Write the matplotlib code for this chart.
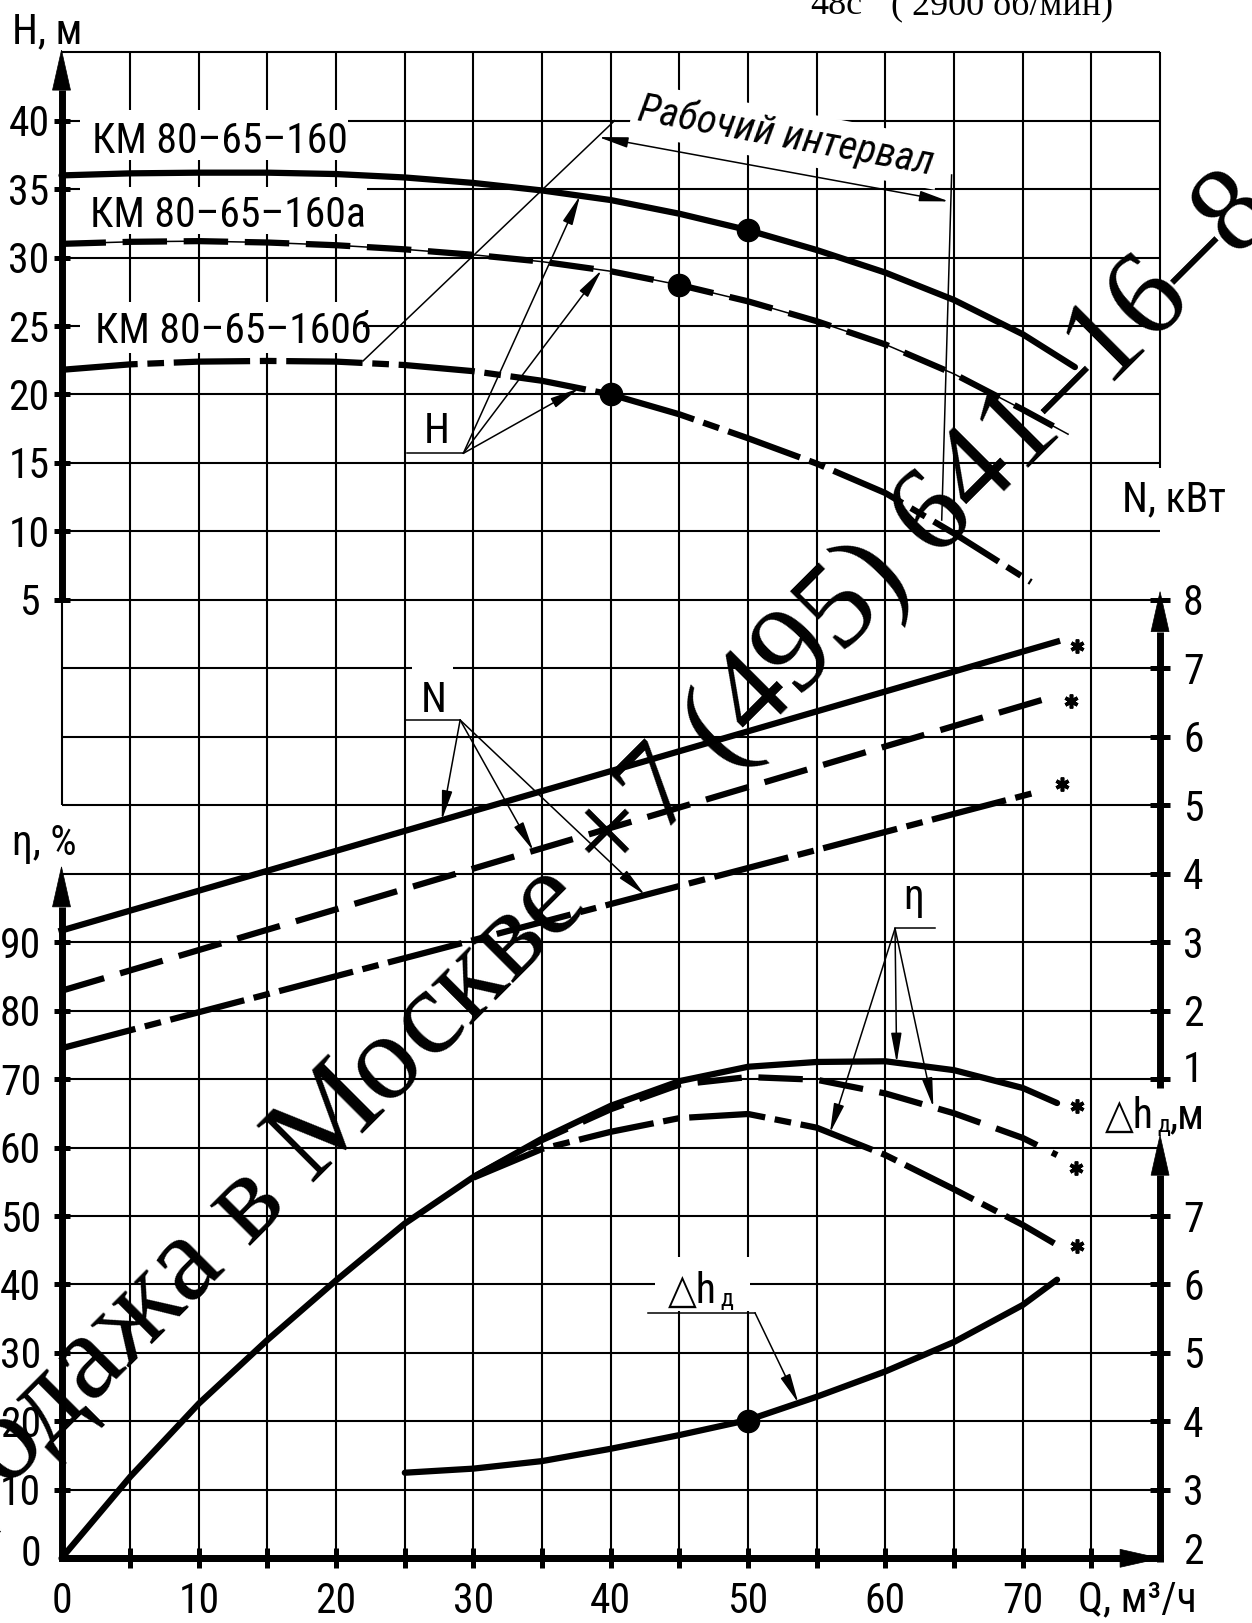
#!/usr/bin/env python3
"""
Pump characteristic chart KM 80-65-160 (H, N, eta, dh vs Q)
drawn on one square grid with four value scales.
"""

import numpy as np
import matplotlib
matplotlib.use("Agg")
import matplotlib.pyplot as plt
import matplotlib.transforms as mtransforms
from matplotlib import font_manager as fm
from matplotlib.textpath import TextPath
from matplotlib.patches import Polygon, Rectangle

# -----------------------------
# DATA
# -----------------------------
# head H, m
Q_H1 = [0, 5, 10, 15, 20, 25, 30, 35, 40, 45, 50, 55, 60, 65, 70, 73.8]
H1 = [36.0, 36.15, 36.2, 36.2, 36.1, 35.85, 35.45, 34.9, 34.2, 33.2, 32.0, 30.55, 28.9, 26.9, 24.4, 22.0]
Q_H2 = [0, 5, 10, 15, 20, 25, 30, 35, 40, 45, 50, 55, 60, 65, 70, 73.3]
H2 = [31.0, 31.15, 31.2, 31.1, 30.9, 30.6, 30.2, 29.7, 29.0, 28.0, 26.8, 25.35, 23.65, 21.5, 18.9, 17.1]
Q_H3 = [0, 5, 10, 15, 20, 25, 30, 35, 40, 45, 50, 55, 60, 65, 70.6]
H3 = [21.8, 22.2, 22.4, 22.45, 22.4, 22.15, 21.7, 21.0, 20.0, 18.55, 16.8, 14.95, 12.8, 9.85, 6.3]

# efficiency eta, %
Q_E1 = [0, 5, 10, 15, 20, 25, 30, 35, 40, 45, 50, 55, 60, 65, 70, 72.5]
E1 = [0, 11.9, 22.6, 31.9, 40.6, 48.9, 55.7, 61.3, 66.1, 69.7, 71.8, 72.5, 72.6, 71.3, 68.7, 66.5]
Q_E2 = [30, 35, 40, 45, 50, 55, 60, 65, 70, 72.5]
E2 = [55.7, 61.1, 65.6, 69.2, 70.3, 69.9, 67.9, 65.0, 61.4, 58.9]
Q_E3 = [30, 35, 40, 45, 50, 55, 60, 65, 70, 72.3]
E3 = [55.6, 59.8, 62.3, 64.3, 64.9, 62.9, 58.9, 53.9, 48.7, 46.0]

# power N, kW (straight lines)
Q_N1 = [0, 72.5]
N1 = [3.17, 7.39]
Q_N2 = [0, 71.6]
N2 = [2.29, 6.55]
Q_N3 = [0, 71.0]
N3 = [1.45, 5.19]

# NPSH dh, m
Q_DH = [25, 30, 35, 40, 45, 50, 55, 60, 65, 70, 72.5]
DH = [3.25, 3.31, 3.42, 3.6, 3.8, 4.02, 4.36, 4.73, 5.16, 5.7, 6.07]

# duty points
DUTY_Q = [50, 45, 40]
DUTY_H = [32.0, 28.0, 20.0]
DUTY_DH_Q = [50]
DUTY_DH = [4.0]

MODELS = ["КМ 80–65–160", "КМ 80–65–160а", "КМ 80–65–160б"]

H_TICKS = [5, 10, 15, 20, 25, 30, 35, 40]
ETA_TICKS = [0, 10, 20, 30, 40, 50, 60, 70, 80, 90]
N_TICKS = [1, 2, 3, 4, 5, 6, 7, 8]
DH_TICKS = [2, 3, 4, 5, 6, 7]
Q_TICKS = list(range(5, 80, 5))
Q_LABELS = [0, 10, 20, 30, 40, 50, 60, 70]

# -----------------------------
# FONT: the drawing uses a narrow drafting font, take the narrowest sans we have
# -----------------------------
def pick_narrow():
    prefs = ["Liberation Sans Narrow", "Roboto", "Noto Sans", "DejaVu Sans", "Open Sans", "Lato"]
    found = {}
    for f in fm.fontManager.ttflist:
        narrow = ("Narrow" in f.name or "ondensed" in f.name or
                  f.stretch in ("condensed", "semi-condensed", "extra-condensed"))
        if narrow and f.style == "normal":
            found.setdefault(f.name, f.stretch)
    for p in prefs:
        for name, stretch in found.items():
            if name.startswith(p):
                return name, stretch
    return "Liberation Sans", "normal"


FAMILY, STRETCH = pick_narrow()
plt.rcParams["font.family"] = [FAMILY, "DejaVu Sans"]
plt.rcParams["font.stretch"] = STRETCH
plt.rcParams["lines.scale_dashes"] = False

# -----------------------------
# LAYOUT
# -----------------------------
W_PX, H_PX, DPI = 1252, 1623, 100
X_Q0 = 61.5              # pixel column of Q = 0
PX_PER_Q = 68.66 / 5     # one grid column = 5 m3/h
Y_R0 = 1558.3            # pixel row of the Q axis
PX_PER_ROW = 68.46       # one grid row
Q_LIM = (-X_Q0 / PX_PER_Q, (W_PX - X_Q0) / PX_PER_Q)
R_LIM = ((Y_R0 - H_PX) / PX_PER_ROW, Y_R0 / PX_PER_ROW)


def text_width(s, size_pt, family, stretch="normal"):
    prop = fm.FontProperties(family=family, stretch=stretch)
    return TextPath((0, 0), s, size=size_pt * DPI / 72, prop=prop).get_extents().width


# shrink the text if our font is wider than the drafting one
FS = 31 * min(1.0, 250 / text_width(MODELS[0], 31, FAMILY, STRETCH))
# "dh" with a subscript: where the subscript starts after the triangle and h
DH_SUB = (text_width("△", FS, "DejaVu Sans") + text_width("h", FS, FAMILY, STRETCH) + 6)

THICK = 4.5
THIN = 1.1
GRID_LW = 1.5
AXIS_LW = 5.0
DASHED = (0, (32, 12))
DASHDOT = (0, (55, 7, 12, 7))
ARROW = dict(arrowstyle="-|>,head_length=0.9,head_width=0.16", mutation_scale=20,
             lw=THIN, color="k", shrinkA=0, shrinkB=0)
SERIF = ["Liberation Serif", "DejaVu Serif"]

fig = plt.figure(figsize=(W_PX / DPI, H_PX / DPI), dpi=DPI)
fig.patch.set_facecolor("white")


def make_axes(scale, offset):
    # every scale is a linear function of the grid row r
    a = fig.add_axes([0, 0, 1, 1])
    a.set_xlim(Q_LIM)
    a.set_ylim(scale * R_LIM[0] + offset, scale * R_LIM[1] + offset)
    a.set_axis_off()
    a.patch.set_alpha(0)
    return a


ax = make_axes(1, 0)        # grid rows
axH = make_axes(5, -65)     # H = 5 r - 65
axE = make_axes(10, 0)      # eta = 10 r
axN = make_axes(1, -6)      # N = r - 6
axD = make_axes(1, 2)       # dh = r + 2


def fxy(x, y):
    return x / W_PX, 1 - y / H_PX


def px_text(x, y, s, **kw):
    kw.setdefault("fontsize", FS)
    kw.setdefault("va", "baseline")
    return ax.text(*fxy(x, y), s, transform=fig.transFigure, zorder=4, **kw)


def white_box(x0, y0, x1, y1):
    ax.add_patch(Rectangle(fxy(x0, y1), (x1 - x0) / W_PX, (y1 - y0) / H_PX,
                           transform=fig.transFigure, fc="white", ec="none", zorder=1.5))


def axis_arrow(x0, y0, x1, y1, head_len=40, head_w=18):
    p0 = ax.transData.transform((x0, y0))
    p1 = ax.transData.transform((x1, y1))
    d = (p1 - p0) / np.hypot(*(p1 - p0))
    n = np.array([-d[1], d[0]])
    base = p1 - d * head_len
    tri = ax.transData.inverted().transform([p1, base + n * head_w / 2, base - n * head_w / 2])
    bx, by = ax.transData.inverted().transform(base)
    ax.plot([x0, bx], [y0, by], color="k", lw=AXIS_LW, solid_capstyle="butt", zorder=3)
    ax.add_patch(Polygon(tri, closed=True, fc="k", ec="k", lw=0.5, zorder=3))


# -----------------------------
# GRID AND AXES
# -----------------------------
ax.vlines(Q_TICKS, 0, 22, color="k", lw=GRID_LW, zorder=1)
ax.hlines(range(1, 23), 0, 80, color="k", lw=GRID_LW, zorder=1)
ax.vlines(0, 11, 14, color="k", lw=GRID_LW, zorder=1)
ax.vlines(80, 15.92, 22, color="k", lw=GRID_LW, zorder=1)

ax.plot([0, 80], [0, 0], color="k", lw=AXIS_LW, solid_capstyle="projecting", zorder=3)
axis_arrow(0, 0, 0, 10.1)           # eta
axis_arrow(0, 14, 0, 22.03)         # H
axis_arrow(0, 0, 80, 0)             # Q
axis_arrow(80, -0.05, 80, 6.18)     # dh
axis_arrow(80, 6.87, 80, 14.12)     # N

tick = dict(ls="none", color="k", mew=3.6, zorder=3)
axH.plot([0] * len(H_TICKS), H_TICKS, marker="_", ms=12, **tick)
axE.plot([0] * len(ETA_TICKS[1:]), ETA_TICKS[1:], marker="_", ms=12, **tick)
axN.plot([80] * len(N_TICKS), N_TICKS, marker="_", ms=14, **tick)
axD.plot([80] * len(DH_TICKS[1:]), DH_TICKS[1:], marker="_", ms=14, **tick)
ax.plot(Q_TICKS, [0] * len(Q_TICKS), marker="|", ms=14, **tick)


def ylabels(axv, ticks, x_px, ha, first_shift=0):
    tr = mtransforms.blended_transform_factory(fig.transFigure, axv.transData)
    for i, t in enumerate(ticks):
        dy = -15.5 + (first_shift if i == 0 else 0)
        axv.text(x_px / W_PX, t, str(t), ha=ha, va="baseline", fontsize=FS,
                 transform=mtransforms.offset_copy(tr, fig=fig, y=dy, units="dots"))


ylabels(axH, H_TICKS, 29, "center")
ylabels(axE, ETA_TICKS, 41, "right", first_shift=8)
ylabels(axN, N_TICKS, 1183, "left", first_shift=13)
ylabels(axD, DH_TICKS, 1183, "left", first_shift=10)

trq = mtransforms.blended_transform_factory(ax.transData, fig.transFigure)
for q in Q_LABELS:
    ax.text(q, 1 - 1613 / H_PX, str(q), ha="center", va="baseline", fontsize=FS, transform=trq)

px_text(11.7, 43.3, "H, м")
px_text(11.7, 855, "η, %")
px_text(1121.7, 511.7, "N, кВт")
px_text(1078, 1611, "Q, м³/ч")
px_text(1105, 1128, "△h")
px_text(1105 + DH_SUB, 1132, "д", fontsize=FS * 0.58)
px_text(1105 + DH_SUB + 12, 1128, ",м")

# -----------------------------
# LABELS
# -----------------------------
white_box(80, 110, 348, 160)
white_box(80, 187, 367, 234)
white_box(80, 302, 363, 353)
px_text(91.7, 153.3, MODELS[0])
px_text(90, 226.7, MODELS[1])
px_text(95, 343.3, MODELS[2])

px_text(786, 136, "Рабочий интервал", fontsize=FS * 0.97, style="italic", ha="center", va="center",
        rotation=-10.5, rotation_mode="anchor",
        bbox=dict(boxstyle="square,pad=0.15", fc="white", ec="none"))

# working interval borders
axH.plot([21.96, 40.28], [22.45, 40.0], color="k", lw=THIN, zorder=2)
axH.plot([64.82, 64.1], [36.03, 10.83], color="k", lw=THIN, zorder=2)
axH.annotate("", xy=(64.63, 34.1), xytext=(39.1, 38.8),
             arrowprops=dict(ARROW, arrowstyle="<|-|>,head_length=0.9,head_width=0.16"))

# H leader
axH.plot([25.14, 29.26], [15.7, 15.7], color="k", lw=THIN)
for tq, qs, vs in [(37.76, Q_H1, H1), (39.34, Q_H2, H2), (37.71, Q_H3, H3)]:
    axH.annotate("", xy=(tq, np.interp(tq, qs, vs)), xytext=(29.26, 15.7), arrowprops=ARROW)
px_text(436.7, 443.3, "H", ha="center")

# N leader
white_box(411.7, 664, 453.3, 716)
axN.plot([25.02, 29.03], [6.245, 6.245], color="k", lw=THIN)
for tq, qs, vs in [(27.69, Q_N1, N1), (34.36, Q_N2, N2), (42.49, Q_N3, N3)]:
    axN.annotate("", xy=(tq, np.interp(tq, qs, vs)), xytext=(29.03, 6.245), arrowprops=ARROW)
px_text(433.3, 712, "N", ha="center")

# eta leader
axE.plot([60.7, 63.6], [92.0, 92.0], color="k", lw=THIN)
for tq, qs, vs in [(55.96, Q_E3, E3), (60.82, Q_E1, E1), (63.49, Q_E2, E2)]:
    axE.annotate("", xy=(tq, np.interp(tq, qs, vs)), xytext=(60.7, 92.0), arrowprops=ARROW)
px_text(914, 909, "η", ha="center")

# dh leader
white_box(655, 1257, 750, 1311)
axD.plot([42.73, 50.5], [5.587, 5.587], color="k", lw=THIN)
axD.annotate("", xy=(53.66, np.interp(53.66, Q_DH, DH)), xytext=(50.5, 5.587), arrowprops=ARROW)
px_text(668, 1303, "△h")
px_text(668 + DH_SUB, 1306, "д", fontsize=FS * 0.58)

# -----------------------------
# CURVES
# -----------------------------
axH.plot(Q_H1, H1, color="k", lw=THICK, solid_capstyle="round", solid_joinstyle="round")
axH.plot(Q_H2, H2, color="k", lw=THIN)
axH.plot(Q_H2, H2, color="k", lw=THICK, ls=DASHED)
axH.plot(Q_H3, H3, color="k", lw=THICK, ls=DASHDOT)
axH.plot(DUTY_Q, DUTY_H, "o", color="k", ms=16)

axN.plot(Q_N1, N1, color="k", lw=THICK)
axN.plot(Q_N2, N2, color="k", lw=THICK, ls=DASHED)
axN.plot(Q_N3, N3, color="k", lw=THICK, ls=DASHDOT)

axE.plot(Q_E1, E1, color="k", lw=THICK, solid_capstyle="round", solid_joinstyle="round")
axE.plot(Q_E2, E2, color="k", lw=THICK, ls=DASHED)
axE.plot(Q_E3, E3, color="k", lw=THICK, ls=DASHDOT)

axD.plot(Q_DH, DH, color="k", lw=THICK, solid_capstyle="round", solid_joinstyle="round")
axD.plot(DUTY_DH_Q, DUTY_DH, "o", color="k", ms=16)

# asterisks at the ends of N and eta curves
star = dict(marker=(6, 2, 0), ms=10, mew=2.6, color="k", ls="none")
for a, qs, vs, dx, dy in [(axN, Q_N1, N1, 20, -4), (axN, Q_N2, N2, 26, -2), (axN, Q_N3, N3, 26, 8),
                          (axE, Q_E1, E1, 20, -3), (axE, Q_E2, E2, 19, -13), (axE, Q_E3, E3, 23, -3)]:
    off = mtransforms.offset_copy(a.transData, fig=fig, x=dx, y=dy, units="dots")
    a.plot([qs[-1]], [vs[-1]], transform=off, **star)

# -----------------------------
# HEADER AND WATERMARK
# -----------------------------
fig.text(*fxy(810, 14), "48с", fontsize=26, va="baseline", family=SERIF)
fig.text(*fxy(864, -4), "-1", fontsize=16, va="baseline", family=SERIF)
fig.text(*fxy(891, 14), "( 2900 об/мин)", fontsize=26, va="baseline", family=SERIF)
fig.text(*fxy(-100, 1595), "Продажа в Москве +7 (495) 641–16–8", fontsize=88,
         family=SERIF, rotation=45, rotation_mode="anchor",
         ha="left", va="baseline", zorder=20)

fig.savefig("out.png", dpi=DPI)
